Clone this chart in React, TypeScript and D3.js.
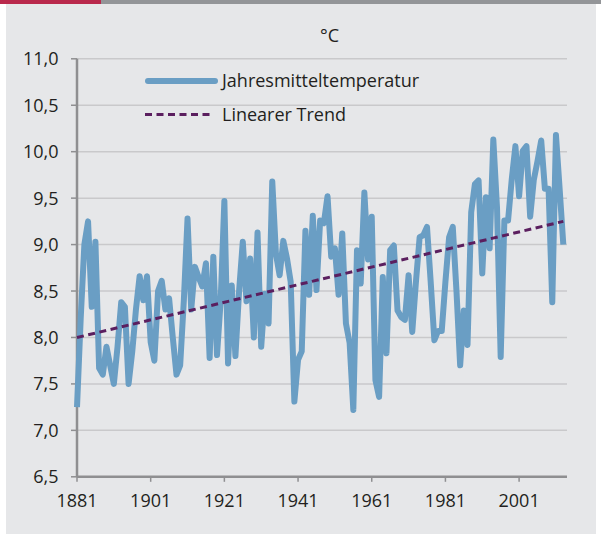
import React from 'react'
import * as d3 from 'd3'

/** First year of the series, every next value is one year later */
const firstYear = 1881

/** Jahresmitteltemperatur in °C, 1881 - 2013 */
const temperatures = [
    7.25, 8.2, 9.0, 9.25, 8.33, 9.03, 7.67, 7.6, 7.9, 7.7,
    7.5, 7.9, 8.38, 8.33, 7.5, 7.85, 8.3, 8.66, 8.4, 8.66,
    7.95, 7.75, 8.5, 8.61, 8.3, 8.42, 8.0, 7.6, 7.7, 8.4,
    9.28, 8.3, 8.76, 8.65, 8.55, 8.8, 7.78, 8.87, 7.81, 8.4,
    9.47, 7.72, 8.56, 7.8, 8.5, 9.03, 8.39, 8.85, 8.0, 9.13,
    7.9, 8.47, 8.15, 9.68, 8.9, 8.67, 9.04, 8.85, 8.6, 7.31,
    7.76, 7.85, 9.15, 8.46, 9.31, 8.51, 9.26, 9.23, 9.52, 8.87,
    8.96, 8.46, 9.12, 8.15, 7.94, 7.22, 8.94, 8.58, 9.56, 8.84,
    9.3, 7.54, 7.36, 8.65, 7.83, 8.94, 8.99, 8.29, 8.22, 8.19,
    8.67, 8.06, 8.6, 9.08, 9.1, 9.19, 8.6, 7.97, 8.07, 8.07,
    8.6, 9.08, 9.19, 8.5, 7.7, 8.29, 7.92, 9.35, 9.65, 9.69,
    8.69, 9.51, 8.96, 10.13, 9.4, 7.79, 9.26, 9.26, 9.7, 10.06,
    9.52, 10.01, 10.06, 9.3, 9.7, 9.9, 10.12, 9.6, 9.6, 8.38,
    10.18, 9.6, 9.0
]

/** Linear trend, start and end */
const trendYears = [1881, 2013]
const trendValues = [8.0, 9.25]

const yTicks = [6.5, 7.0, 7.5, 8.0, 8.5, 9.0, 9.5, 10.0, 10.5, 11.0]
const xTicks = [1881, 1901, 1921, 1941, 1961, 1981, 2001]

const legendLabels = ['Jahresmitteltemperatur', 'Linearer Trend']
const unitLabel = '°C'

const years = temperatures.map((_, i) => firstYear + i)

const COLORS = {
    panel: '#e6e7e9',
    red: '#b9294c',
    bar: '#939598',
    grid: '#c9c9cb',
    axis: '#8f8f91',
    text: '#231f20',
    line: '#6a9ec4',
    trend: '#5b1f5f'
}

const FONT = '"Open Sans", sans-serif'

const WIDTH = 601
const HEIGHT = 534
const left = 77
const right = 567
const top = 58.8
const bottom = 476.8

const xScale = d3.scaleLinear().domain([1881, 2014]).range([left, right])
const yScale = d3.scaleLinear().domain([6.5, 11]).range([bottom, top])

const formatTick = (v: number) => d3.format('.1f')(v).replace('.', ',')

const YAxis = () => (
    <g className='axis axis-y'>
        {yTicks.map((t) => (
            <g key={t} transform={`translate(0, ${yScale(t)})`}>
                {t > 6.5 && <line x1={left} x2={right} stroke={COLORS.grid} strokeWidth={1.5} />}
                <line x1={left - 6} x2={left} stroke={COLORS.axis} strokeWidth={1.5} />
                <text
                    x={left - 18.5}
                    dy='0.36em'
                    textAnchor='end'
                    fontSize={18}
                    fontFamily={FONT}
                    fill={COLORS.text}
                >
                    {formatTick(t)}
                </text>
            </g>
        ))}
        <line x1={left} x2={left} y1={top} y2={bottom} stroke={COLORS.axis} strokeWidth={2.5} />
    </g>
)

const XAxis = () => (
    <g className='axis axis-x'>
        {xTicks.map((t) => (
            <g key={t} transform={`translate(${xScale(t)}, ${bottom})`}>
                <line y1={0} y2={5} stroke={COLORS.axis} strokeWidth={1.5} />
                <text
                    y={30.5}
                    textAnchor='middle'
                    fontSize={18}
                    fontFamily={FONT}
                    fill={COLORS.text}
                >
                    {t}
                </text>
            </g>
        ))}
        <line x1={left} x2={right} y1={bottom} y2={bottom} stroke={COLORS.axis} strokeWidth={2.5} />
    </g>
)

const Series = () => {
    const line = d3.line<number>()
        .x((_, i) => xScale(years[i]))
        .y((d) => yScale(d))
    const trend = d3.line<number>()
        .x((_, i) => xScale(trendYears[i]))
        .y((d) => yScale(d))
    return (
        <g>
            <path
                d={line(temperatures) || ''}
                fill='none'
                stroke={COLORS.line}
                strokeWidth={6}
                strokeLinejoin='round'
            />
            <path
                d={trend(trendValues) || ''}
                fill='none'
                stroke={COLORS.trend}
                strokeWidth={3}
                strokeDasharray='7 4.5'
            />
        </g>
    )
}

const Legend = () => (
    <g className='legend' fontFamily={FONT} fontSize={18} fill={COLORS.text}>
        <line x1={148} x2={215} y1={81} y2={81} stroke={COLORS.line} strokeWidth={6} strokeLinecap='round' />
        <text x={222} y={81} dy='0.35em'>{legendLabels[0]}</text>
        <line x1={145} x2={214} y1={114.5} y2={114.5} stroke={COLORS.trend} strokeWidth={3} strokeDasharray='7 4.5' />
        <text x={222} y={114.5} dy='0.35em'>{legendLabels[1]}</text>
    </g>
)

export default function App () {
    return (
        <svg
            width={WIDTH}
            height={HEIGHT}
            style={{ position: 'absolute', left: 0, top: 0, background: '#fff' }}
        >
            <rect x={6} y={4} width={590} height={HEIGHT - 4} fill={COLORS.panel} />
            <rect x={0} y={0} width={WIDTH} height={4} fill={COLORS.bar} />
            <rect x={0} y={0} width={101} height={4} fill={COLORS.red} />
            <text
                x={329.5}
                y={42}
                textAnchor='middle'
                fontSize={18}
                fontFamily={FONT}
                fill={COLORS.text}
            >
                {unitLabel}
            </text>
            <YAxis />
            <XAxis />
            <Series />
            <Legend />
        </svg>
    )
}
